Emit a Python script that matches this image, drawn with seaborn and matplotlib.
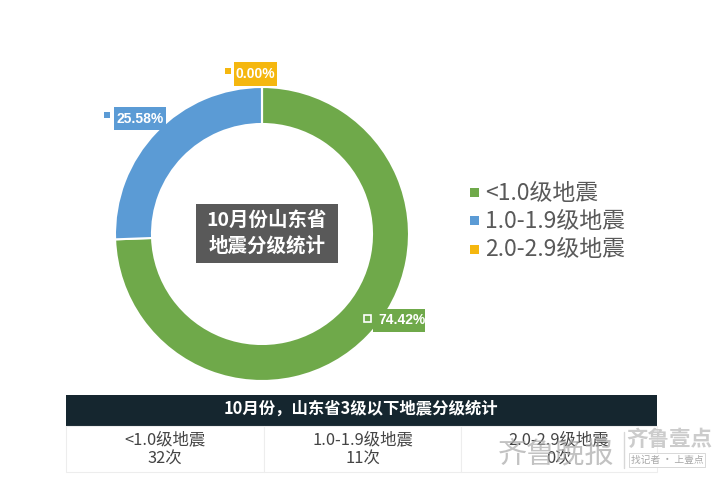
import matplotlib
matplotlib.use('Agg')
import matplotlib.pyplot as plt
from matplotlib.patches import Rectangle
import seaborn as sns

categories = ['<1.0级地震', '1.0-1.9级地震', '2.0-2.9级地震']
shares = [74.42, 25.58, 0.00]
counts = [32, 11, 0]
colors = ['#6FA94A', '#5B9BD5', '#F5B70F']
chart_title = ['10月份山东省', '地震分级统计']
table_title = '10月份，山东省3级以下地震分级统计'

sns.set_theme(style='white')
plt.rcParams['font.family'] = ['Noto Sans CJK SC', 'DejaVu Sans']
palette = sns.color_palette(colors)

W, H = 720, 479
fig = plt.figure(figsize=(W / 100, H / 100), dpi=100, facecolor='white')

# donut, placed so that radius 1 is 147 px
cx, cy, r = 262, 234, 147
ax = fig.add_axes([(cx - r) / W, 1 - (cy + r) / H, 2 * r / W, 2 * r / H])
ax.pie(shares, colors=palette, startangle=90, counterclock=False, radius=1,
       wedgeprops=dict(width=37 / 147, edgecolor='white', linewidth=1.5))
ax.set_xlim(-1, 1)
ax.set_ylim(-1, 1)

# overlay in pixel coords for the labels and the table
ov = fig.add_axes([0, 0, 1, 1], facecolor='none')
ov.set_xlim(0, W)
ov.set_ylim(H, 0)
ov.axis('off')

# data labels
boxes = [(373, 309, 52, 23), (114, 107, 52, 23), (234, 62, 43, 24)]
markers = [(367, 318), (107, 115), (228, 71)]
for i in range(3):
    x, y, w, h = boxes[i]
    ov.add_patch(Rectangle((x, y), w, h, color=palette[i], lw=0))
    ov.text(x + w / 2 + (3 if i == 0 else 0), y + h / 2, f'{shares[i]:.2f}%', color='white', fontsize=10,
            fontweight='bold', ha='center', va='center', family='Liberation Sans')
    mx, my = markers[i]
    if i == 0:
        ov.add_patch(Rectangle((mx - 3.5, my - 3.5), 7, 7, fc=palette[i], ec='white', lw=1.2))
    else:
        ov.add_patch(Rectangle((mx - 3, my - 3), 6, 6, color=palette[i], lw=0))

# center title
ov.add_patch(Rectangle((196, 204), 142, 59, color='#595959', lw=0))
ov.text(267, 220, chart_title[0], color='white', fontsize=14, fontweight='bold', ha='center', va='center')
ov.text(267, 246, chart_title[1], color='white', fontsize=14, fontweight='bold', ha='center', va='center')

# legend
for i, y in enumerate([192, 220, 249]):
    ov.add_patch(Rectangle((470, y - 4.5), 9, 9, color=palette[i], lw=0))
    ov.text(485, y + 1, categories[i], color='#595959', fontsize=16.5, fontweight='medium', ha='left', va='center')

# table
ov.add_patch(Rectangle((66, 395), 591, 31, color='#15262F', lw=0))
ov.text(361, 409, table_title, color='white', fontsize=11.8, fontweight='bold', ha='center', va='center')
edges = [66, 264, 461, 657]
for i in range(3):
    ov.add_patch(Rectangle((edges[i], 426), edges[i + 1] - edges[i], 46, fc='white', ec='#EDEDED', lw=0.8))
    mid = (edges[i] + edges[i + 1]) / 2
    ov.text(mid, 440, categories[i], color='#444444', fontsize=11.8, ha='center', va='center')
    ov.text(mid, 459, f'{counts[i]}次', color='#444444', fontsize=11.8, ha='center', va='center')

# watermark, sits over the last table cell as in the source image
ov.text(556, 454, '齐鲁晚报', color='#A8A8A8', alpha=0.7, fontsize=21, style='italic', ha='center', va='center')
ov.plot([624, 624], [432, 468], color='#D8D8D8', lw=1)
ov.text(669, 440, '齐鲁壹点', color='#CCCCCC', fontsize=15.5, fontweight='bold', ha='center', va='center')
ov.add_patch(Rectangle((629, 453), 76, 14, fc='white', ec='#D8D8D8', lw=0.7))
ov.text(667, 460, '找记者 · 上壹点', color='#A8A8A8', fontsize=7, ha='center', va='center')

fig.savefig('out.png', dpi=100)
